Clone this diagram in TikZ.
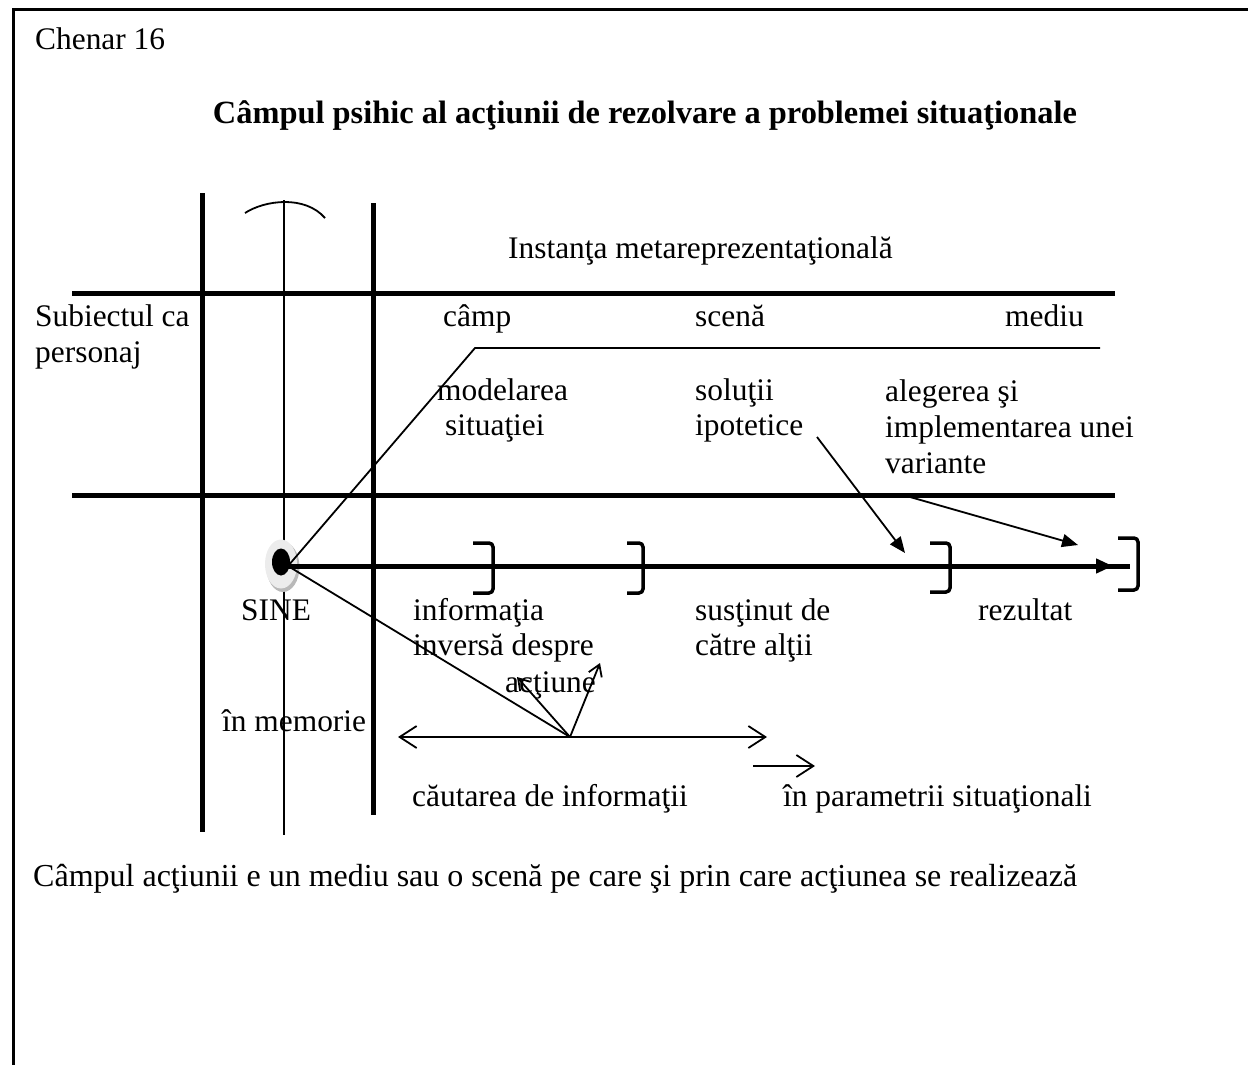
\documentclass[tikz,border=0pt]{standalone}
\usepackage{fontspec}
\setmainfont{Liberation Serif}
\usetikzlibrary{arrows.meta}
\begin{document}
\begin{tikzpicture}[x=1pt,y=-1pt,
  txt/.style={anchor=base west,inner sep=0pt,font=\fontsize{31.4}{36}\selectfont},
  heavy/.style={line width=5pt},
  thin/.style={line width=1.8pt},
  bracket/.style={line width=3.5pt,rounded corners=4pt},
  fillhead/.style={-{Triangle[length=16pt,width=13pt]}},
  openhead/.style={-{Straight Barb[length=17pt,width=22pt]}},
  smallhead/.style={-{Straight Barb[length=11pt,width=14pt]}}]
\useasboundingbox (0,0) rectangle (1248,1065);

% frame
\draw[line width=3pt] (13,1065) -- (13,10) -- (1248,10);

% headings
\node[txt] (chenar) at (35,50) {Chenar 16};
\node[anchor=base,inner sep=0pt,font=\fontsize{32.4}{36}\selectfont\bfseries] (title) at (645,123)
  {Câmpul psihic al acţiunii de rezolvare a problemei situaţionale};

% grid of the psychic field
\draw[heavy] (202,193) -- (202,832);
\draw[heavy] (373,203) -- (373,815);
\draw[thin] (284,200) -- (284,835);
\draw[thin] (245,213) .. controls (265,200) and (305,195) .. (325,218);
\draw[heavy] (72,293) -- (1115,293);
\draw[heavy] (72,495) -- (1115,495);

% labels of the upper band
\node[txt] (inst) at (508,258) {Instanţa metareprezentaţională};
\node[txt] (subj1) at (35,326) {Subiectul ca};
\node[txt] (subj2) at (35,362) {personaj};
\node[txt] (camp) at (443,326) {câmp};
\node[txt] (scena) at (695,326) {scenă};
\node[txt] (mediu) at (1005,326) {mediu};
\node[txt] (model1) at (437,400) {modelarea};
\node[txt] (model2) at (445,435) {situaţiei};
\node[txt] (sol1) at (695,400) {soluţii};
\node[txt] (sol2) at (695,435) {ipotetice};
\node[txt] (alg1) at (885,401) {alegerea şi};
\node[txt] (alg2) at (885,437) {implementarea unei};
\node[txt] (alg3) at (885,473) {variante};

% the self (SINE)
\fill[gray!55] (283,567) ellipse [x radius=16.5pt, y radius=25pt];
\fill[gray!15] (281,564) ellipse [x radius=16pt, y radius=24.5pt];
\fill[black] (281,562) ellipse [x radius=9pt, y radius=13.5pt];
\coordinate (sine) at (288,566);

% action axis with stages
\coordinate (axisend) at (1130,566);
\coordinate (axistip) at (1113,566);
\draw[heavy] (sine) -- (axisend);
\draw[heavy,-{Triangle[length=17pt,width=14pt]}] (sine) -- (axistip);
\draw[bracket] (473,543) -- (493,543) -- (493,593) -- (473,593);
\draw[bracket] (627,543) -- (643,543) -- (643,593) -- (627,593);
\draw[bracket] (930,543) -- (950,543) -- (950,592) -- (930,592);
\draw[bracket] (1118,538) -- (1138,538) -- (1138,590) -- (1118,590);

% field line from the self to the upper band
\coordinate (bend) at (475,348);
\coordinate (fieldend) at (1100,348);
\draw[thin] (sine) -- (bend) -- (fieldend);

% arrows from the stages down to the axis
\coordinate (hypfrom) at (817,437);
\coordinate (hypto) at (905,553);
\coordinate (varfrom) at (910,497);
\coordinate (varto) at (1078,545);
\draw[thin,fillhead] (hypfrom) -- (hypto);
\draw[thin,fillhead] (varfrom) -- (varto);

% labels of the lower band
\node[txt] (sinelbl) at (241,620) {SINE};
\node[txt] (inf1) at (413,620) {informaţia};
\node[txt] (inf2) at (413,655) {inversă despre};
\node[txt] (inf3) at (505,692) {acţiune};
\node[txt] (sus1) at (695,620) {susţinut de};
\node[txt] (sus2) at (695,655) {către alţii};
\node[txt] (rez) at (978,620) {rezultat};
\node[txt] (mem) at (222,731) {în memorie};
\node[txt] (caut) at (412,806) {căutarea de informaţii};
\node[txt] (param) at (783,806) {în parametrii situaţionali};
\node[txt,font=\fontsize{32}{36}\selectfont] (concl) at (33,886) {Câmpul acţiunii e un mediu sau o scenă pe care şi prin care acţiunea se realizează};

% information search
\coordinate (hub) at (570,737);
\coordinate (searchL) at (398,737);
\coordinate (searchR) at (767,737);
\coordinate (fbA) at (517,677);
\coordinate (fbB) at (600,663);
\coordinate (parA) at (753,766);
\coordinate (parB) at (815,766);
\draw[thin] (sine) -- (hub);
\draw[thin,openhead] (hub) -- (searchL);
\draw[thin,openhead] (hub) -- (searchR);
\draw[thin,smallhead] (hub) -- (fbA);
\draw[thin,smallhead] (hub) -- (fbB);
\draw[thin,openhead] (parA) -- (parB);
\end{tikzpicture}
\end{document}
